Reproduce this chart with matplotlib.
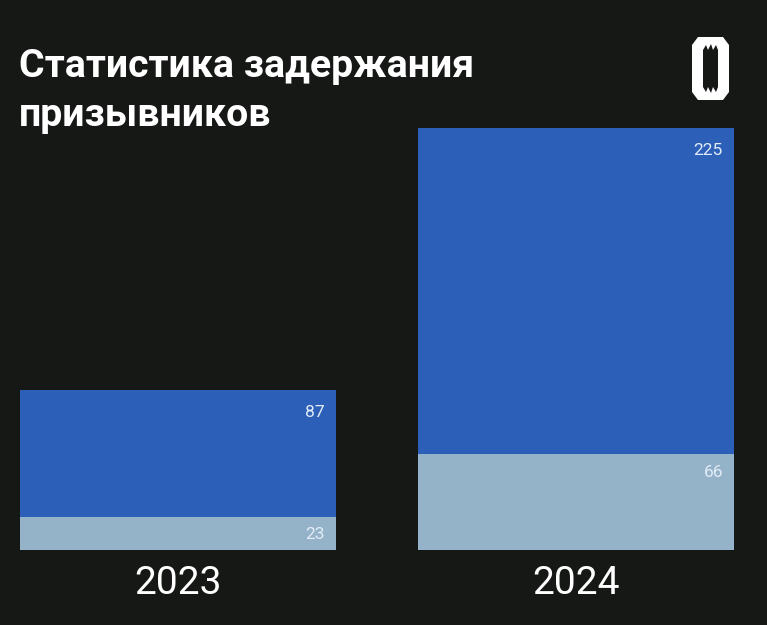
import numpy as np
import matplotlib.pyplot as plt
from matplotlib.patches import Polygon

years = ['2023', '2024']
lower_vals = [23, 66]     # light segment
upper_vals = [87, 225]    # blue segment

bg = '#161816'
blue = '#2c5fb7'
light = '#94b3c9'
label_col = '#e2ecf7'

plt.rcParams['font.family'] = ['Roboto', 'DejaVu Sans']

fig = plt.figure(figsize=(7.67, 6.25), dpi=100, facecolor=bg)
W, H = 767, 625

# axes spans bars: left 20px, right 734px, bottom 550px, top of tallest bar 128px
ax = fig.add_axes([20 / W, 1 - 550 / H, 714 / W, (550 - 128) / H])
ax.set_facecolor(bg)

x = np.arange(len(years))
width = 0.794
ax.bar(x, lower_vals, width, color=light)
ax.bar(x, upper_vals, width, bottom=lower_vals, color=blue)

ax.set_xlim(-0.397, 1.397)
ax.set_ylim(0, lower_vals[1] + upper_vals[1])

# value labels at top-right corner of each segment
for i in range(len(years)):
    right = x[i] + width / 2
    ax.annotate(str(lower_vals[i]), (right, lower_vals[i]), xytext=(-8, -13),
                textcoords='offset points', ha='right', va='center',
                color=label_col, fontsize=12.5)
    ax.annotate(str(upper_vals[i]), (right, lower_vals[i] + upper_vals[i]),
                xytext=(-8, -16), textcoords='offset points', ha='right',
                va='center', color=label_col, fontsize=12.5)

ax.set_xticks(x)
ax.set_xticklabels(years, color='white', fontsize=28)
ax.tick_params(axis='x', length=0, pad=11)
ax.set_yticks([])
for s in ax.spines.values():
    s.set_visible(False)

# title
fig.text(19 / W, 1 - 77 / H, 'Статистика задержания', color='white',
         fontsize=28.3, fontweight='bold', ha='left', va='baseline')
fig.text(19 / W, 1 - 126 / H, 'призывников', color='white',
         fontsize=28.3, fontweight='bold', ha='left', va='baseline')

# logo
def px(pts):
    return [(a / W, 1 - b / H) for a, b in pts]

outer = px([(698, 37), (723, 37), (729, 45), (729, 92), (723, 100),
            (698, 100), (692, 92), (692, 45)])
fig.patches.append(Polygon(outer, closed=True, transform=fig.transFigure,
                           facecolor='white', edgecolor='none'))
inner = px([(703, 50), (706, 45), (708, 50), (711, 44), (713, 50), (716, 45),
            (718, 50), (718, 87), (716, 92), (713, 87), (711, 93), (708, 87),
            (706, 92), (703, 87)])
fig.patches.append(Polygon(inner, closed=True, transform=fig.transFigure,
                           facecolor=bg, edgecolor='none'))

fig.savefig('out.png', facecolor=bg)
